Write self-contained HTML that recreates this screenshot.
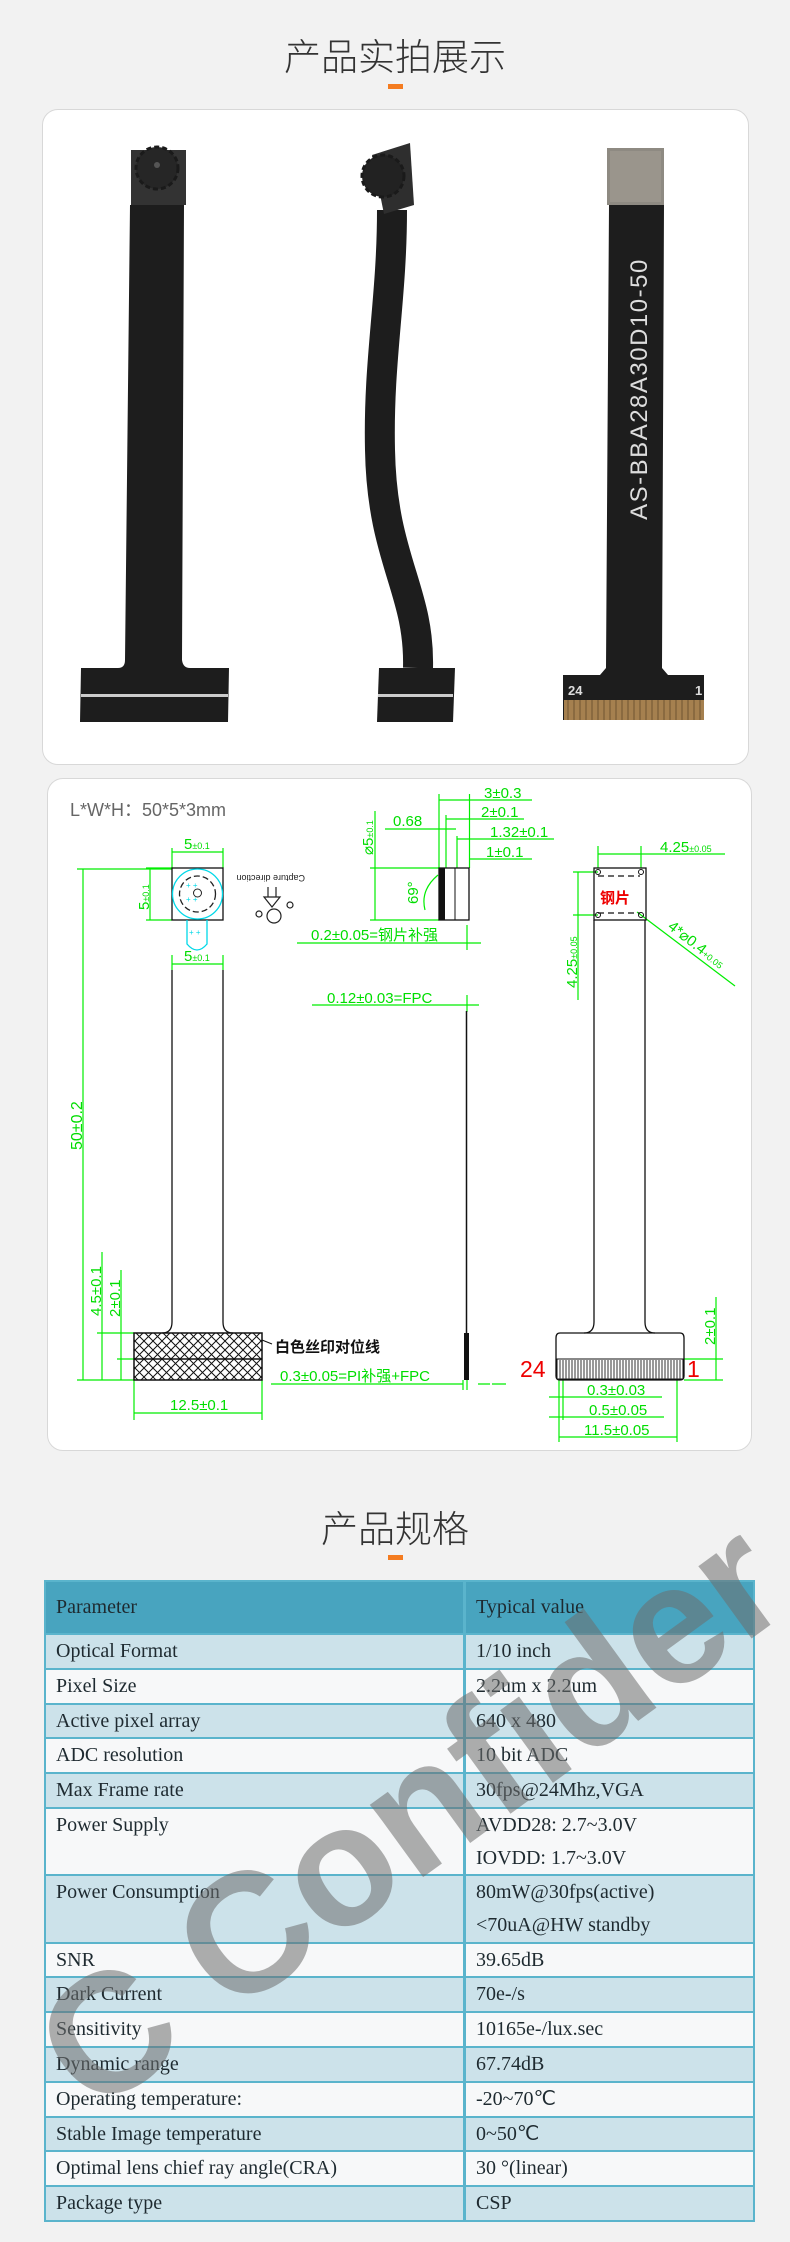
<!DOCTYPE html>
<html><head><meta charset="utf-8">
<style>
*{margin:0;padding:0;box-sizing:border-box}
body{width:790px;height:2242px;background:#f2f2f2;position:relative;overflow:hidden;font-family:"Liberation Sans","Noto Sans CJK SC",sans-serif}
.title{position:absolute;left:0;width:790px;text-align:center;font-family:"Noto Sans CJK SC",sans-serif;font-weight:300;font-size:37px;color:#333;line-height:1}
.bar{position:absolute;left:388px;width:15px;height:5px;background:#f47c20}
.panel{position:absolute;background:#fff;border:1px solid #d8d8d8;border-radius:16px}
.tbl{position:absolute;left:44px;top:1580px;width:711px;border:2px solid #5ab4cc;font-family:"Liberation Serif",serif;font-size:20px;color:#1e2a30}
.row{display:flex;border-top:2px solid #5ab4cc}
.row:first-child{border-top:none}
.c1{width:420px;padding-left:10px;border-right:3px solid #5ab4cc;line-height:33px}
.c2{flex:1;padding-left:10px;line-height:33px}
.b{background:#cce2ea}.w{background:#f7f8f9}
.h{background:#48a4bf;height:51px;align-items:center}
.h div{line-height:51px}
</style></head><body>

<div class="title" style="top:36px">产品实拍展示</div>
<div class="bar" style="top:84px"></div>

<div class="panel" style="left:42px;top:109px;width:707px;height:656px"></div>
<svg style="position:absolute;left:0;top:0" width="790" height="780">
 <!-- photo 1 -->
 <path d="M130 205 L184 205 L182 660 Q183 668 190 668 L229 668 L228 722 L80 722 L81 668 L118 668 Q125 668 125 660 Z" fill="#1d1d1d"/>
 <rect x="131" y="150" width="55" height="55" fill="#333"/>
 <circle cx="157" cy="168" r="21" fill="#262626" stroke="#1a1a1a" stroke-width="3" stroke-dasharray="5 3"/>
 <circle cx="157" cy="165" r="3" fill="#555"/>
 <rect x="81" y="694" width="147" height="3" fill="#ccc"/>
 <!-- photo 2 -->
 <path d="M392 210 C392 300,378 360,380 450 C382 560,420 590,418 668" stroke="#1d1d1d" stroke-width="30" fill="none"/>
 <path d="M372 155 L410 143 L414 205 L384 214 Z" fill="#2e2e2e"/>
 <circle cx="383" cy="176" r="21" fill="#222" stroke="#1a1a1a" stroke-width="3" stroke-dasharray="5 3"/>
 <path d="M379 668 L455 668 L453 722 L377 722 Z" fill="#1d1d1d"/>
 <rect x="378" y="694" width="75" height="3" fill="#ccc"/>
 <!-- photo 3 -->
 <rect x="607" y="148" width="57" height="57" fill="#8e8a82"/>
 <rect x="610" y="151" width="51" height="51" fill="#9a958c"/>
 <path d="M609 205 L664 205 L662 668 L668 675 L704 675 L704 720 L563 720 L563 675 L600 675 L606 668 Z" fill="#1d1d1d"/>
 <rect x="564" y="700" width="140" height="20" fill="#a5804f"/>
 <g stroke="#6f5330" stroke-width="1"><path d="M568 700v20M574 700v20M580 700v20M586 700v20M592 700v20M598 700v20M604 700v20M610 700v20M616 700v20M622 700v20M628 700v20M634 700v20M640 700v20M646 700v20M652 700v20M658 700v20M664 700v20M670 700v20M676 700v20M682 700v20M688 700v20M694 700v20M700 700v20"/></g>
 <text x="0" y="0" transform="translate(647,389) rotate(-90)" text-anchor="middle" font-family="Liberation Sans,sans-serif" font-size="24" fill="#ddd" letter-spacing="1.5">AS-BBA28A30D10-50</text>
 <text x="568" y="695" font-family="Liberation Sans,sans-serif" font-size="13" font-weight="bold" fill="#ddd">24</text>
 <text x="695" y="695" font-family="Liberation Sans,sans-serif" font-size="13" font-weight="bold" fill="#ddd">1</text>
</svg>

<div class="panel" style="left:47px;top:778px;width:705px;height:673px"></div>
<svg style="position:absolute;left:0;top:0" width="790" height="1460" font-family="Liberation Sans Narrow,Liberation Sans,sans-serif">
 <defs>
  <pattern id="hx" width="9" height="9" patternUnits="userSpaceOnUse">
   <path d="M0 0L9 9M9 0L0 9" stroke="#111" stroke-width="1"/>
  </pattern>
 </defs>
 <text x="70" y="816" font-size="18" fill="#666" font-family="Liberation Sans,'Noto Sans CJK SC',sans-serif">L*W*H：50*5*3mm</text>
 <g stroke="#00ee00" stroke-width="1.2" fill="none">
  <path d="M172 848V868M223 848V868M172 852H223"/>
  <path d="M172 955V970M223 955V970M172 964H223"/>
  <path d="M146 868H172M146 920H172M150 868V920"/>
  <path d="M77 869H172M77 1380H134M83 869V1380"/>
  <path d="M97 1333H134M102 1252V1380M117 1359H134M121 1270V1380"/>
  <path d="M134 1380V1420M262 1380V1420M134 1413H262"/>
  <path d="M271 1384H463"/>
  <path d="M439 794V868M446 815V868M457 836V868M469.5 794V868"/>
  <path d="M439 800H532M446 819H524M385 829H456M457 839H554M469.5 859H532"/>
  <path d="M375 811V920M370 868H439M370 920H439"/>
  <path d="M297 943H481M312 1005H479M467 925V950M467 995V1012"/>
  <path d="M463 1380V1390M467 1380V1390M478 1384H490M492 1384H506"/>
  <path d="M438 875 Q420 890 425 910" />
  <path d="M598 846V868M641 846V868M598 854H725"/>
  <path d="M573 872H598M573 915H598M578 872V1000"/>
  <path d="M637 912L735 986"/>
  <path d="M684 1359H723M684 1380H723M716 1297V1380"/>
  <path d="M559 1380V1442M563 1380V1420M677 1380V1442"/>
  <path d="M549 1397H662M549 1417H664M559 1437H677"/>
 </g>
 <g fill="#00dd00" font-size="15">
  <text x="184" y="849" font-size="15">5<tspan font-size="9">±0.1</tspan></text>
  <text x="184" y="961">5<tspan font-size="9">±0.1</tspan></text>
  <text transform="translate(149,910) rotate(-90)">5<tspan font-size="9">±0.1</tspan></text>
  <text transform="translate(82,1150) rotate(-90)" font-size="16">50±0.2</text>
  <text transform="translate(101,1316) rotate(-90)">4.5±0.1</text>
  <text transform="translate(120,1317) rotate(-90)">2±0.1</text>
  <text x="170" y="1410">12.5±0.1</text>
  <text x="280" y="1381">0.3±0.05=PI补强+FPC</text>
  <text x="484" y="798">3±0.3</text>
  <text x="481" y="817">2±0.1</text>
  <text x="393" y="826">0.68</text>
  <text x="490" y="837">1.32±0.1</text>
  <text x="486" y="857">1±0.1</text>
  <text transform="translate(373,855) rotate(-90)">⌀5<tspan font-size="9">±0.1</tspan></text>
  <text transform="translate(418,904) rotate(-90)">69°</text>
  <text x="311" y="940">0.2±0.05=钢片补强</text>
  <text x="327" y="1003">0.12±0.03=FPC</text>
  <text x="660" y="852">4.25<tspan font-size="9">±0.05</tspan></text>
  <text transform="translate(577,988) rotate(-90)">4.25<tspan font-size="9">±0.05</tspan></text>
  <text transform="translate(667,928) rotate(38)">4*⌀0.4<tspan font-size="9">+0.05</tspan></text>
  <text transform="translate(715,1345) rotate(-90)">2±0.1</text>
  <text x="587" y="1395">0.3±0.03</text>
  <text x="589" y="1415">0.5±0.05</text>
  <text x="584" y="1435">11.5±0.05</text>
 </g>
 <g stroke="#111" stroke-width="1.3" fill="none">
  <rect x="172" y="868" width="51" height="52"/>
  <path d="M172 970V1322Q172 1333 162 1333M223 970V1322Q223 1333 233 1333"/>
 </g>
 <rect x="134" y="1333" width="128" height="47" fill="url(#hx)" stroke="#111" stroke-width="1.5"/>
 <path d="M134 1359H262" stroke="#111" stroke-width="1.5"/>
 <g stroke="#00d8e8" stroke-width="1.3" fill="none">
  <circle cx="197.5" cy="894" r="25"/>
  <path d="M187 920V944Q197 956 207 944V920"/>
 </g>
 <circle cx="197.5" cy="894" r="18" fill="none" stroke="#222" stroke-width="1.3" stroke-dasharray="6 3"/>
 <circle cx="197.5" cy="893" r="4" fill="none" stroke="#222"/>
 <g fill="#00d8e8" font-size="8"><text x="186" y="888">+ +</text><text x="186" y="902">+ +</text><text x="189" y="935">+ +</text></g>
 <text transform="translate(305,875) rotate(180)" font-size="9" fill="#222">Capture direction</text>
 <g stroke="#222" stroke-width="1.2" fill="none">
  <path d="M268 887V897M276 887V897M264 897H280L272 907Z"/>
  <circle cx="274" cy="916" r="7"/><circle cx="259" cy="914" r="3"/><circle cx="290" cy="905" r="3"/>
 </g>
 <text x="275" y="1352" font-size="15" font-weight="bold" fill="#111" font-family="'Noto Sans CJK SC',sans-serif">白色丝印对位线</text>
 <path d="M262 1340L272 1344" stroke="#111"/>
 <rect x="439" y="868" width="30" height="52" fill="#fff" stroke="#111" stroke-width="1.3"/>
 <rect x="439" y="868" width="6" height="52" fill="#111"/>
 <path d="M455 868V920" stroke="#111"/>
 <path d="M466.5 1011V1380" stroke="#111" stroke-width="1.5"/>
 <rect x="464" y="1333" width="5" height="47" fill="#111"/>
 <g stroke="#111" stroke-width="1.3" fill="none">
  <rect x="594" y="868" width="52" height="52"/>
  <path d="M598 876H640M598 913H640" stroke-dasharray="6 4"/>
  <path d="M594 920V1322Q594 1333 584 1333M645 920V1322Q645 1333 655 1333"/>
  <path d="M560 1333H680Q684 1333 684 1338V1376Q684 1380 680 1380H560Q556 1380 556 1376V1338Q556 1333 560 1333Z"/>
 </g>
 <g fill="none" stroke="#111"><circle cx="598" cy="872" r="2.5"/><circle cx="641" cy="872" r="2.5"/><circle cx="598" cy="915" r="2.5"/><circle cx="641" cy="915" r="2.5"/></g>
 <rect x="557" y="1359" width="126" height="20" fill="#fff" stroke="#111"/>
 <path d="M560 1360v19M563 1360v19M566 1360v19M569 1360v19M572 1360v19M575 1360v19M578 1360v19M581 1360v19M584 1360v19M587 1360v19M590 1360v19M593 1360v19M596 1360v19M599 1360v19M602 1360v19M605 1360v19M608 1360v19M611 1360v19M614 1360v19M617 1360v19M620 1360v19M623 1360v19M626 1360v19M629 1360v19M632 1360v19M635 1360v19M638 1360v19M641 1360v19M644 1360v19M647 1360v19M650 1360v19M653 1360v19M656 1360v19M659 1360v19M662 1360v19M665 1360v19M668 1360v19M671 1360v19M674 1360v19M677 1360v19M680 1360v19" stroke="#333" stroke-width="1"/>
 <text x="600" y="903" font-size="15" font-weight="bold" fill="#e00" font-family="'Noto Sans CJK SC',sans-serif">钢片</text>
 <text x="520" y="1377" font-size="23" fill="#e00">24</text>
 <text x="687" y="1377" font-size="23" fill="#e00">1</text>
</svg>

<div class="title" style="top:1508px">产品规格</div>
<div class="bar" style="top:1555px"></div>

<div class="tbl">
 <div class="row h"><div class="c1">Parameter</div><div class="c2">Typical value</div></div>
 <div class="row b" style="height:34.8px"><div class="c1">Optical Format</div><div class="c2">1/10 inch</div></div>
 <div class="row w" style="height:34.8px"><div class="c1">Pixel Size</div><div class="c2">2.2um x 2.2um</div></div>
 <div class="row b" style="height:34.8px"><div class="c1">Active pixel array</div><div class="c2">640 x 480</div></div>
 <div class="row w" style="height:34.8px"><div class="c1">ADC resolution</div><div class="c2">10 bit ADC</div></div>
 <div class="row b" style="height:34.8px"><div class="c1">Max Frame rate</div><div class="c2">30fps@24Mhz,VGA</div></div>
 <div class="row w" style="height:67.3px"><div class="c1">Power Supply</div><div class="c2">AVDD28: 2.7~3.0V<br>IOVDD: 1.7~3.0V</div></div>
 <div class="row b" style="height:67.3px"><div class="c1">Power Consumption</div><div class="c2">80mW@30fps(active)<br>&lt;70uA@HW standby</div></div>
 <div class="row w" style="height:34.8px"><div class="c1">SNR</div><div class="c2">39.65dB</div></div>
 <div class="row b" style="height:34.8px"><div class="c1">Dark Current</div><div class="c2">70e-/s</div></div>
 <div class="row w" style="height:34.8px"><div class="c1">Sensitivity</div><div class="c2">10165e-/lux.sec</div></div>
 <div class="row b" style="height:34.8px"><div class="c1">Dynamic range</div><div class="c2">67.74dB</div></div>
 <div class="row w" style="height:34.8px"><div class="c1">Operating temperature:</div><div class="c2">-20~70℃</div></div>
 <div class="row b" style="height:34.8px"><div class="c1">Stable Image temperature</div><div class="c2">0~50℃</div></div>
 <div class="row w" style="height:34.8px"><div class="c1">Optimal lens chief ray angle(CRA)</div><div class="c2">30 °(linear)</div></div>
 <div class="row b" style="height:34.8px"><div class="c1">Package type</div><div class="c2">CSP</div></div>
</div>

<svg style="position:absolute;left:0;top:1500px" width="790" height="742">
 <text transform="translate(410,315) rotate(-36)" text-anchor="middle" dominant-baseline="central" font-family="Liberation Sans,sans-serif" font-weight="bold" font-size="170" fill="#6e6e6e" fill-opacity="0.55">C Confider</text>
</svg>
</body></html>
